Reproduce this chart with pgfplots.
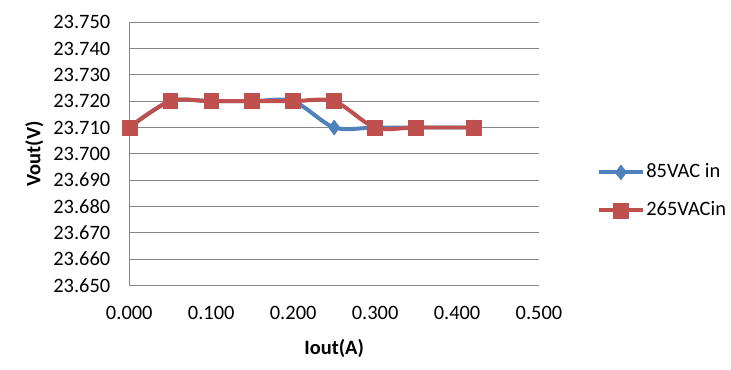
\documentclass[border=0pt]{standalone}
\usepackage{pgfplots}
\pgfplotsset{compat=1.18}
\usepackage{fontspec}
\setmainfont{Carlito}
\definecolor{xblue}{HTML}{4F81BD}
\definecolor{xred}{HTML}{C0504D}
\definecolor{xgrid}{HTML}{868686}
\begin{document}
\fontsize{20.5bp}{24bp}\selectfont
\begin{tikzpicture}
\begin{axis}[
  at={(0,0)}, anchor=south west,
  scale only axis, width=411bp, height=264bp,
  xmin=0, xmax=0.5, ymin=23.65, ymax=23.75,
  xtick={0,0.1,...,0.5}, ytick={23.65,23.66,...,23.75},
  axis x line*=bottom, axis y line*=left,
  axis line style={xgrid, line width=0.8pt, -},
  major tick length=0pt,
  ymajorgrids, grid style={xgrid, line width=0.8pt},
  /pgf/number format/assume math mode=true,
  /pgf/number format/.cd, fixed, fixed zerofill, precision=3, 1000 sep={},
  /pgfplots/.cd,
  ticklabel style={font=\fontsize{20.5bp}{24bp}\selectfont, black},
  xticklabel style={yshift=-14bp},
  yticklabel style={xshift=-12bp},
  xlabel={\textbf{Iout(A)}}, ylabel={\textbf{Vout(V)}},
  xlabel style={font=\fontsize{20.5bp}{24bp}\selectfont, yshift=-6bp},
  ylabel style={font=\fontsize{20.5bp}{24bp}\selectfont, yshift=-4bp},
  legend style={at={(1.135,0.357)}, anchor=west, draw=none, fill=none,
    font=\fontsize{20.5bp}{24bp}\selectfont, row sep=17bp,
    /tikz/every even column/.append style={column sep=2bp}},
  legend cell align=left,
  legend image code/.code={
    \draw[#1, mark repeat=2, mark phase=2] plot coordinates {(0bp,0bp) (21.5bp,0bp) (43bp,0bp)};
  },
  clip=false,
]
\addplot[xblue, line width=4bp, smooth, tension=0.5, mark=diamond*, mark size=7.5bp, mark options={solid, fill=xblue, line width=0.5pt}]
coordinates {(0,23.71) (0.05,23.72) (0.1,23.72) (0.15,23.72) (0.2,23.72) (0.25,23.71) (0.3,23.71) (0.35,23.71) (0.42,23.71)};
\addlegendentry{85VAC in}
\addplot[xred, line width=4bp, smooth, tension=0.5, mark=square*, mark size=7.5bp, mark options={solid, fill=xred, line width=0.5pt}]
coordinates {(0,23.71) (0.05,23.72) (0.1,23.72) (0.15,23.72) (0.2,23.72) (0.25,23.72) (0.3,23.71) (0.35,23.71) (0.42,23.71)};
\addlegendentry{265VACin}
\end{axis}
\path (-129.7bp,-84.7bp) rectangle (601.3bp,286.3bp);
\end{tikzpicture}
\end{document}
